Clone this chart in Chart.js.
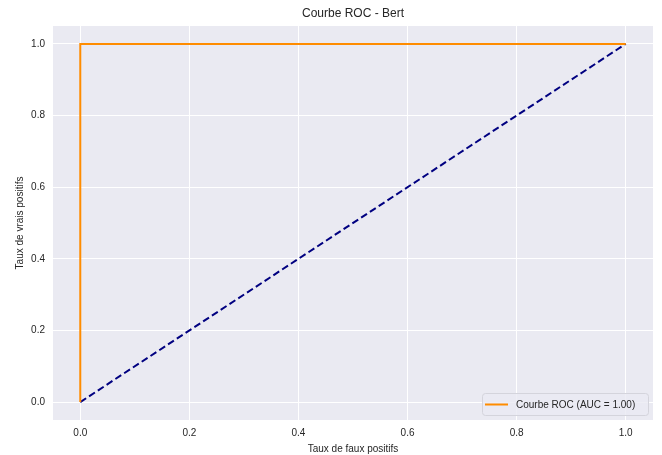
<!DOCTYPE html>
<html>
<head>
<meta charset="utf-8">
<script src="https://cdn.jsdelivr.net/npm/chart.js@4.4.1/dist/chart.umd.min.js"></script>
<style>
  html, body { margin: 0; padding: 0; background: #ffffff; }
  canvas { display: block; }
</style>
</head>
<body>
<canvas id="roc" width="662" height="455"></canvas>
<script>
// ROC curve points (false positive rate, true positive rate)
const fpr = [0.0, 0.0, 1.0];
const tpr = [0.0, 1.0, 1.0];
// chance diagonal
const diagX = [0.0, 1.0];
const diagY = [0.0, 1.0];
const tickValues = [0.0, 0.2, 0.4, 0.6, 0.8, 1.0];
const rocLabel = 'Courbe ROC (AUC = 1.00)';

const FONT = '"Liberation Sans", Arial, sans-serif';
const TEXT = '#262626';

const toPoints = (xs, ys) => xs.map((x, i) => ({ x: x, y: ys[i] }));

// draws the legend box inside the plot, lower right, like matplotlib
const insideLegend = {
    id: 'insideLegend',
    afterDatasetsDraw(chart) {
        const ctx = chart.ctx;
        const area = chart.chartArea;
        const w = 166, h = 22;
        const x = area.right - 5 - w;
        const y = area.bottom - 5 - h;
        ctx.save();
        ctx.fillStyle = 'rgba(234,234,242,0.8)';
        ctx.strokeStyle = '#d4d4dc';
        ctx.lineWidth = 1;
        ctx.beginPath();
        ctx.roundRect(x + 0.5, y + 0.5, w, h, 3);
        ctx.fill();
        ctx.stroke();
        ctx.strokeStyle = '#ff8c00';
        ctx.lineWidth = 2;
        ctx.beginPath();
        ctx.moveTo(x + 3, y + h / 2 + 0.5);
        ctx.lineTo(x + 26, y + h / 2 + 0.5);
        ctx.stroke();
        ctx.fillStyle = TEXT;
        ctx.font = '10px ' + FONT;
        ctx.textBaseline = 'middle';
        ctx.fillText(rocLabel, x + 34, y + h / 2 + 1);
        ctx.restore();
    }
};

// plot background
const plotBg = {
    id: 'plotBg',
    beforeDraw(chart) {
        const a = chart.chartArea;
        chart.ctx.save();
        chart.ctx.fillStyle = '#eaeaf2';
        chart.ctx.fillRect(a.left, a.top, a.right - a.left, a.bottom - a.top);
        chart.ctx.restore();
    }
};

new Chart(document.getElementById('roc'), {
    type: 'scatter',
    data: {
        datasets: [
            {
                label: rocLabel,
                data: toPoints(fpr, tpr),
                showLine: true,
                borderColor: '#ff8c00',
                backgroundColor: '#ff8c00',
                borderWidth: 2,
                pointRadius: 0,
                tension: 0,
                order: 1
            },
            {
                label: 'diagonal',
                data: toPoints(diagX, diagY),
                showLine: true,
                borderColor: '#000080',
                borderWidth: 2,
                borderDash: [7, 3.5],
                pointRadius: 0,
                order: 2
            }
        ]
    },
    options: {
        responsive: false,
        animation: false,
        layout: { padding: { top: 26, right: 9, left: 0, bottom: 0 } },
        plugins: {
            legend: { display: false },
            tooltip: { enabled: false },
            title: { display: false }
        },
        scales: {
            x: {
                type: 'linear',
                min: -0.05,
                max: 1.05,
                afterBuildTicks: s => { s.ticks = tickValues.map(v => ({ value: v })); },
                afterFit: s => { s.height = 35; },
                grid: { color: '#ffffff', lineWidth: 1, drawTicks: false },
                border: { display: false },
                ticks: {
                    color: TEXT,
                    font: { family: FONT, size: 10 },
                    padding: 7,
                    maxRotation: 0,
                    callback: v => v.toFixed(1)
                },
                title: {
                    display: true,
                    text: 'Taux de faux positifs',
                    color: TEXT,
                    font: { family: FONT, size: 10 },
                    padding: { top: 1, bottom: 0 }
                }
            },
            y: {
                type: 'linear',
                min: -0.05,
                max: 1.05,
                afterBuildTicks: s => { s.ticks = tickValues.map(v => ({ value: v })); },
                afterFit: s => { s.width = 53; },
                grid: { color: '#ffffff', lineWidth: 1, drawTicks: false },
                border: { display: false },
                ticks: {
                    color: TEXT,
                    font: { family: FONT, size: 10 },
                    padding: 8,
                    callback: v => v.toFixed(1)
                },
                title: {
                    display: true,
                    text: 'Taux de vrais positifs',
                    color: TEXT,
                    font: { family: FONT, size: 10 },
                    padding: { top: 14, bottom: 4 }
                }
            }
        }
    },
    plugins: [plotBg, insideLegend, {
        id: 'topTitle',
        afterDraw(chart) {
            const a = chart.chartArea;
            const ctx = chart.ctx;
            ctx.save();
            ctx.fillStyle = TEXT;
            ctx.font = '12px ' + FONT;
            ctx.textAlign = 'center';
            ctx.textBaseline = 'middle';
            ctx.fillText('Courbe ROC - Bert', (a.left + a.right) / 2, 14);
            ctx.restore();
        }
    }]
});
</script>
</body>
</html>
